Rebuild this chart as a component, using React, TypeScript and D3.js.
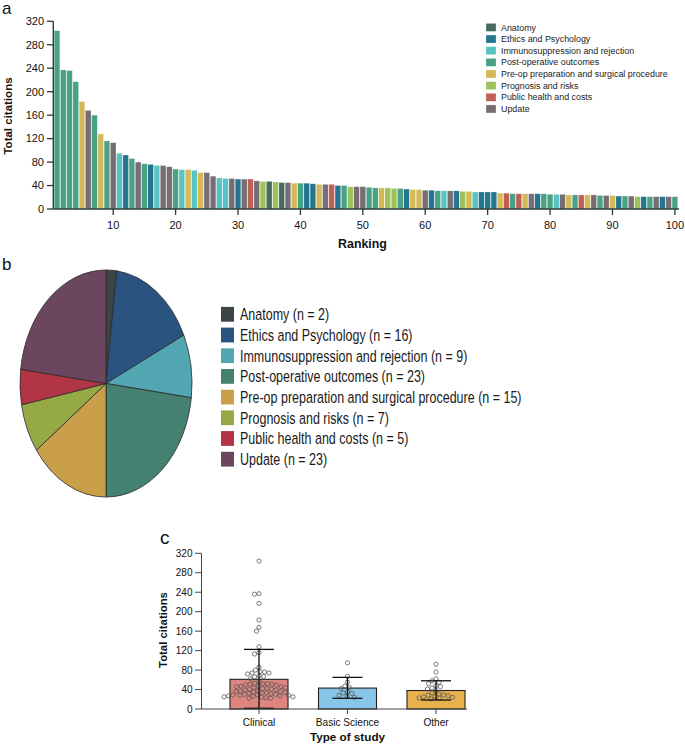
import React from "react";
import * as d3 from "d3";

const FONT = "'Liberation Sans', Arial, Helvetica, sans-serif";

const categories = [
  "Anatomy",
  "Ethics and Psychology",
  "Immunosuppression and rejection",
  "Post-operative outcomes",
  "Pre-op preparation and surgical procedure",
  "Prognosis and risks",
  "Public health and costs",
  "Update",
];
const categoryCodes = ["A", "E", "I", "P", "R", "G", "H", "U"];
const barPalette = ["#466b5d", "#24768f", "#57c3c2", "#48a283", "#d3b957", "#9dc15b", "#c05f55", "#776d74"];
const piePalette = ["#3c4448", "#2b5380", "#52a6b1", "#458170", "#c9a049", "#96a947", "#b13545", "#6b465e"];
const pieCounts = [2, 16, 9, 23, 15, 7, 5, 23];

const rankCitations = [
  304, 237, 236, 217, 183, 168, 160, 128, 116, 113,
  95, 92, 86, 80, 77, 76, 74, 74, 72, 68,
  67, 67, 66, 62, 62, 56, 53, 52, 52, 51,
  51, 51, 48, 47, 47, 46, 45, 45, 44, 44,
  44, 43, 42, 42, 42, 40, 40, 38, 38, 38,
  37, 36, 36, 36, 35, 35, 34, 33, 33, 32,
  32, 31, 31, 31, 31, 30, 30, 29, 29, 29,
  29, 27, 27, 26, 26, 26, 26, 26, 26, 25,
  25, 25, 24, 24, 24, 24, 24, 23, 23, 23,
  22, 22, 22, 21, 21, 21, 21, 21, 21, 21,
];
const rankCategoryCodes = [
  "PPPPRUPRPU", "IEPUPEIUUP", "IRIRUUIIUE", "UHUGAGAURP", "EERUHEPGUU",
  "PPRGGPERRU", "EPIUEGRIEE", "ERHPHRUEPP", "IURPHRUPUR", "EPUGEPUEUP",
].join("").split("");

const yTicksA = [0, 40, 80, 120, 160, 200, 240, 280, 320];
const xTicksA = [10, 20, 30, 40, 50, 60, 70, 80, 90, 100];

const studyTypes = ["Clinical", "Basic Science", "Other"];
const studyMeans = [61, 43, 38];
const studyErrLow = [1.5, 22, 18.5];
const studyErrHigh = [122.5, 65, 58];
const studyColors = ["#df8580", "#87c6e8", "#e8b14c"];
const clinicalCitations = [
  304, 237, 236, 217, 183, 168, 160, 128, 116, 113,
  86, 80, 77, 76, 74, 74, 72, 68, 67, 66,
  62, 56, 53, 52, 52, 51, 51, 50, 49, 47,
  47, 46, 46, 44, 44, 42, 42, 41, 41, 39,
  39, 38, 37, 36, 36, 35, 34, 33, 33, 32,
  31, 30, 30, 29, 29, 28, 28, 27, 27, 26,
  25, 25, 24, 23, 22, 22,
];
const basicCitations = [95, 67, 55, 47, 44, 42, 35, 33, 32, 28, 26, 24];
const otherCitations = [92, 76, 62, 58, 55, 52, 48, 46, 43, 41, 38, 33, 31, 29, 28, 27, 26, 25, 24, 23, 22, 21];
const studyPoints = [clinicalCitations, basicCitations, otherCitations];
const yTicksC = [0, 40, 80, 120, 160, 200, 240, 280, 320];

function dodge(values: number[], y: (v: number) => number, minD: number) {
  const placed: { x: number; y: number }[] = [];
  const sorted = [...values].sort((a, b) => b - a);
  for (const v of sorted) {
    const py = y(v);
    let found = 0;
    for (let k = 0; k < 400; k++) {
      const off = (k % 2 === 0 ? 1 : -1) * Math.ceil(k / 2) * 0.5;
      let ok = true;
      for (const p of placed) {
        const dx = p.x - off;
        const dy = p.y - py;
        if (dx * dx + dy * dy < minD * minD) { ok = false; break; }
      }
      if (ok) { found = off; break; }
    }
    placed.push({ x: found, y: py });
  }
  return placed;
}

export default function App() {
  // Panel a
  const xA = d3.scaleBand<number>().domain(rankCitations.map((_, i) => i + 1)).range([53.9, 678]).paddingInner(0.1).paddingOuter(0.05);
  const yA = d3.scaleLinear().domain([0, 320]).range([209, 21.3]);
  const axisColA = "#2b3c3a";

  // Panel b
  const pie = d3.pie<number>().sort(null).value((d) => d)(pieCounts);
  const arc = d3.arc<d3.PieArcDatum<number>>().innerRadius(0).outerRadius(86);

  // Panel c
  const xC = d3.scalePoint<string>().domain(studyTypes).range([259, 436]);
  const yC = d3.scaleLinear().domain([0, 320]).range([709, 553.3]);
  const barW = 58;
  const dotR = 2.1;

  return (
    <svg width={685} height={745} style={{ position: "absolute", left: 0, top: 0, background: "#fff" }} fontFamily={FONT}>
      {/* ---------- Panel a ---------- */}
      <text x={2} y={14} fontSize={17} fill="#111">a</text>
      <g>
        {rankCitations.map((v, i) => {
          const code = rankCategoryCodes[i];
          const ci = categoryCodes.indexOf(code);
          return (
            <rect
              key={i}
              x={xA(i + 1)}
              y={yA(v)}
              width={xA.bandwidth()}
              height={yA(0) - yA(v)}
              fill={barPalette[ci]}
              stroke="rgba(255,255,255,0.45)"
              strokeWidth={0.5}
            />
          );
        })}
        <line x1={53.3} x2={53.3} y1={yA(320)} y2={yA(0)} stroke={axisColA} strokeWidth={1.4} />
        <line x1={53.3} x2={679} y1={yA(0)} y2={yA(0)} stroke={axisColA} strokeWidth={1.4} />
        {yTicksA.map((t) => (
          <g key={t}>
            <line x1={47} x2={53.3} y1={yA(t)} y2={yA(t)} stroke={axisColA} strokeWidth={1.3} />
            <text x={44} y={yA(t)} dy="0.35em" textAnchor="end" fontSize={11} fill="#111">{t}</text>
          </g>
        ))}
        {xTicksA.map((t) => {
          const cx = (xA(t) as number) + xA.bandwidth() / 2;
          return (
            <g key={t}>
              <line x1={cx} x2={cx} y1={yA(0)} y2={yA(0) + 6} stroke={axisColA} strokeWidth={1.3} />
              <text x={cx} y={229} textAnchor="middle" fontSize={11} fill="#111">{t}</text>
            </g>
          );
        })}
        <text transform="translate(12,116) rotate(-90)" textAnchor="middle" fontSize={11.5} fontWeight="bold" fill="#111">Total citations</text>
        <text x={362.5} y={248} textAnchor="middle" fontSize={12.4} fontWeight="bold" fill="#111">Ranking</text>
        {categories.map((c, i) => (
          <g key={c} transform={`translate(486,${27.4 + i * 11.65})`}>
            <rect x={0} y={-4} width={10} height={8} fill={barPalette[i]} stroke="rgba(255,255,255,0.5)" strokeWidth={0.5} />
            <text x={15} y={0} dy="0.35em" fontSize={8.9} fill="#222">{c}</text>
          </g>
        ))}
      </g>

      {/* ---------- Panel b ---------- */}
      <text x={2} y={270} fontSize={17} fill="#111">b</text>
      <g transform="translate(106,383.5) scale(1,1.32)">
        {pie.map((d, i) => (
          <path
            key={i}
            d={arc(d) as string}
            fill={piePalette[i]}
            stroke="#2a2a2a"
            strokeWidth={0.8}
            vectorEffect="non-scaling-stroke"
          />
        ))}
      </g>
      <g transform="translate(0,314.3) scale(1,1.32)">
        {categories.map((c, i) => (
          <g key={c} transform={`translate(0,${i * 15.68})`}>
            <rect x={221} y={-5.6} width={13} height={11.2} fill={piePalette[i]} />
            <text x={240} y={0} dy="0.36em" fontSize={12.5} fill="#1a1a1a">{`${c} (n = ${pieCounts[i]})`}</text>
          </g>
        ))}
      </g>

      {/* ---------- Panel c ---------- */}
      <text x={160} y={544} fontSize={19} fill="#111">c</text>
      <g>
        {studyTypes.map((s, i) => {
          const cx = xC(s) as number;
          return (
            <rect key={s} x={cx - barW / 2} y={yC(studyMeans[i])} width={barW} height={yC(0) - yC(studyMeans[i])}
              fill={studyColors[i]} stroke="#222" strokeWidth={1.1} />
          );
        })}
        {studyTypes.map((s, i) => {
          const cx = xC(s) as number;
          const pts = dodge(studyPoints[i], (v) => yC(v), 2 * dotR + 0.2);
          return (
            <g key={s}>
              {pts.map((p, j) => (
                <circle key={j} cx={cx + p.x} cy={p.y} r={dotR} fill="none" stroke="#5a5a5a" strokeWidth={0.8} />
              ))}
            </g>
          );
        })}
        {studyTypes.map((s, i) => {
          const cx = xC(s) as number;
          return (
            <g key={s} stroke="#111" strokeWidth={1.3}>
              <line x1={cx} x2={cx} y1={yC(studyErrLow[i])} y2={yC(studyErrHigh[i])} />
              <line x1={cx - 15} x2={cx + 15} y1={yC(studyErrLow[i])} y2={yC(studyErrLow[i])} />
              <line x1={cx - 15} x2={cx + 15} y1={yC(studyErrHigh[i])} y2={yC(studyErrHigh[i])} />
            </g>
          );
        })}
        <line x1={201.5} x2={201.5} y1={yC(320)} y2={yC(0)} stroke="#444" strokeWidth={1} />
        <line x1={201.5} x2={467} y1={yC(0)} y2={yC(0)} stroke="#444" strokeWidth={1} />
        {yTicksC.map((t) => (
          <g key={t}>
            <line x1={195} x2={201.5} y1={yC(t)} y2={yC(t)} stroke="#444" strokeWidth={1} />
            <text x={192.5} y={yC(t)} dy="0.35em" textAnchor="end" fontSize={10} fill="#111">{t}</text>
          </g>
        ))}
        {studyTypes.map((s) => {
          const cx = xC(s) as number;
          return (
            <g key={s}>
              <line x1={cx} x2={cx} y1={yC(0)} y2={yC(0) + 5} stroke="#444" strokeWidth={1} />
              <text x={cx} y={726} textAnchor="middle" fontSize={10.1} fill="#111">{s}</text>
            </g>
          );
        })}
        <text transform="translate(167,630) rotate(-90)" textAnchor="middle" fontSize={11.3} fontWeight="bold" fill="#111">Total citations</text>
        <text x={347.5} y={741} textAnchor="middle" fontSize={11.7} fontWeight="bold" fill="#111">Type of study</text>
      </g>
    </svg>
  );
}
